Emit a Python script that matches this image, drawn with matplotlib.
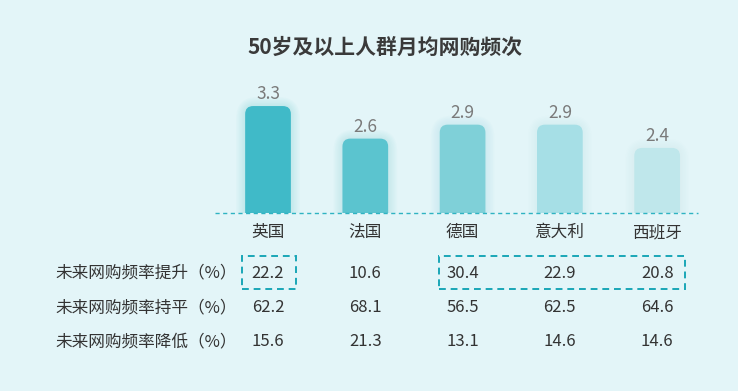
import matplotlib
matplotlib.use("Agg")
import matplotlib.pyplot as plt
from matplotlib.patches import FancyBboxPatch, Rectangle
from matplotlib.transforms import blended_transform_factory

plt.rcParams['font.family'] = ['Noto Sans CJK SC', 'DejaVu Sans']

title = "50岁及以上人群月均网购频次"
countries = ["英国", "法国", "德国", "意大利", "西班牙"]
freq = [3.3, 2.6, 2.9, 2.9, 2.4]
bar_colors = ["#40bac8", "#5bc4cf", "#7fd0d8", "#a6dfe6", "#bfe7eb"]
row_labels = ["未来网购频率提升（%）", "未来网购频率持平（%）", "未来网购频率降低（%）"]
rise = [22.2, 10.6, 30.4, 22.9, 20.8]
flat = [62.2, 68.1, 56.5, 62.5, 64.6]
fall = [15.6, 21.3, 13.1, 14.6, 14.6]
rows = [rise, flat, fall]

W, H = 738, 391
bg = "#e3f5f8"
fig = plt.figure(figsize=(W / 100, H / 100), dpi=100, facecolor=bg)
ax = fig.add_axes([215 / W, (H - 213) / H, (698 - 215) / W, (213 - 80) / H])
ax.set_facecolor(bg)
ax.set_xlim(-0.545, 4.42)
ax.set_ylim(1.0, 1.0 + 133 / 46.5)
for s in ax.spines.values():
    s.set_visible(False)
ax.set_yticks([])

x = list(range(len(countries)))
bars = ax.bar(x, freq, width=0.47, color=bar_colors)

fig.canvas.draw()
px_x = ax.transData.transform((1, 0))[0] - ax.transData.transform((0, 0))[0]
px_y = ax.transData.transform((0, 1))[1] - ax.transData.transform((0, 0))[1]
aspect = px_x / px_y
r = 8 / px_x

for b, c in zip(bars, bar_colors):
    bx, bw, bh = b.get_x(), b.get_width(), b.get_height()
    b.set_visible(False)
    # soft glow
    for k in range(1, 7):
        pad = k * 1.5 / px_x
        g = FancyBboxPatch((bx, 0), bw, bh,
                           boxstyle=f"round,pad={pad},rounding_size={r + pad * 1.5}",
                           mutation_aspect=aspect, facecolor=c, edgecolor="none",
                           alpha=0.03, zorder=1)
        ax.add_patch(g)
    p = FancyBboxPatch((bx, 0), bw, bh, boxstyle=f"round,pad=0,rounding_size={r}",
                       mutation_aspect=aspect, facecolor=c, edgecolor="none", zorder=2)
    ax.add_patch(p)
    ax.annotate(f"{bh:.1f}", (bx + bw / 2, bh), xytext=(0, 2), textcoords="offset points",
                ha="center", va="bottom", fontsize=12.5, color="#7a7a7a", zorder=3)

ax.axhline(1.0 + 0.5 / px_y, color="#2fb3c2", lw=1, ls=(0, (3, 2.5)), clip_on=False, zorder=3)

ax.set_xticks(x)
ax.set_xticklabels(countries, fontsize=12, color="#333333")
ax.tick_params(axis="x", length=0, pad=8)

fig.text(385 / W, 1 - 47 / H, title, ha="center", va="center", fontsize=15,
         fontweight="bold", color="#3a3a3a")

trans = blended_transform_factory(ax.transData, fig.transFigure)
row_y = [273, 308, 342]
for lab, vals, yy in zip(row_labels, rows, row_y):
    yf = 1 - yy / H
    fig.text(55 / W, yf, lab, ha="left", va="center", fontsize=12, color="#333333")
    for xi, v in zip(x, vals):
        ax.text(xi, yf, f"{v:.1f}", transform=trans, ha="center", va="center",
                fontsize=12, color="#333333", clip_on=False)

box_color = "#1aa6b7"
y0 = 1 - 289 / H
hbox = (289 - 256) / H
for xa, xb in [(-0.27, 0.285), (1.76, 4.29)]:
    rect = Rectangle((xa, y0), xb - xa, hbox, transform=trans, fill=False,
                     edgecolor=box_color, lw=1.4, ls=(0, (3.5, 2.5)), clip_on=False)
    ax.add_patch(rect)

fig.savefig("out.png", dpi=100, facecolor=bg)
